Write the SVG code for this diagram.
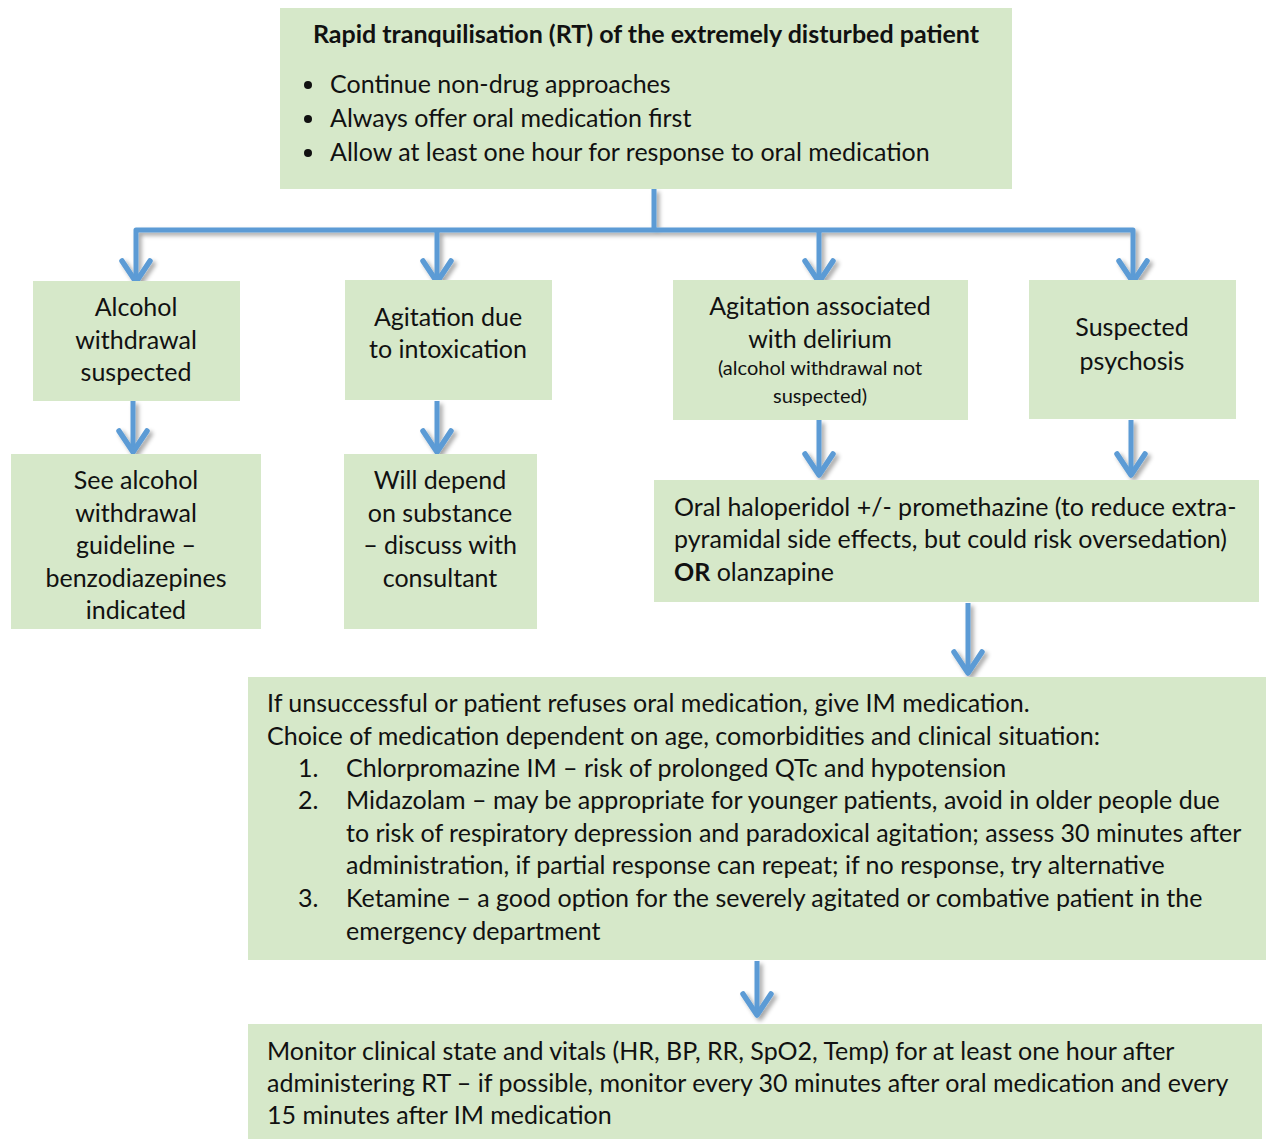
<svg xmlns="http://www.w3.org/2000/svg" width="1266" height="1139" viewBox="0 0 1266 1139">
<defs>
<style>
.box{fill:#d6e8c9;}
text{font-family:Lato,"Liberation Sans",sans-serif;font-size:25px;fill:#111;}
.c{text-anchor:middle;}
.s{font-size:20px;}
.b{font-weight:bold;}
.ln{fill:none;stroke:#5b9bd5;stroke-width:5;stroke-linejoin:round;}
.ah{fill:none;stroke:#5b9bd5;stroke-width:5.5;stroke-linecap:round;stroke-linejoin:round;}
</style>
<filter id="sh" x="-20%" y="-20%" width="140%" height="140%">
<feDropShadow dx="3" dy="3" stdDeviation="2" flood-color="#000" flood-opacity="0.35"/>
</filter>
</defs>
<rect width="1266" height="1139" fill="#fff"/>
<g id="connectors" filter="url(#sh)">
<path class="ln" d="M654 189 V230 M136 284 V230 H1133 V284 M437 230 V284 M819 230 V284"/>
<path class="ah" d="M122 261 L136 282 L150 261 M423 261 L437 282 L451 261 M805 261 L819 282 L833 261 M1119 261 L1133 282 L1147 261"/>
<path class="ln" d="M133 401 V452 M437 401 V452 M819 420 V475 M1131 420 V475 M968 603 V673 M757 961 V1015"/>
<path class="ah" d="M119 431 L133 452 L147 431 M423 431 L437 452 L451 431 M805 454 L819 475 L833 454 M1117 454 L1131 475 L1145 454 M954 652 L968 673 L982 652 M743 994 L757 1015 L771 994"/>
</g>
<g id="n0"><rect class="box" x="280" y="8" width="732" height="181"/>
<text class="c b" x="646" y="43">Rapid tranquilisation (RT) of the extremely disturbed patient</text>
<circle cx="308" cy="85" r="4" fill="#111"/><circle cx="308" cy="119" r="4" fill="#111"/><circle cx="308" cy="153" r="4" fill="#111"/>
<text x="330" y="93">Continue non-drug approaches</text>
<text x="330" y="127">Always offer oral medication first</text>
<text x="330" y="161">Allow at least one hour for response to oral medication</text></g>
<g id="n1"><rect class="box" x="33" y="281" width="207" height="120"/>
<text class="c" x="136" y="316">Alcohol</text><text class="c" x="136" y="349">withdrawal</text><text class="c" x="136" y="381">suspected</text></g>
<g id="n2"><rect class="box" x="345" y="280" width="207" height="120"/>
<text class="c" x="448" y="326">Agitation due</text><text class="c" x="448" y="358">to intoxication</text></g>
<g id="n3"><rect class="box" x="673" y="280" width="295" height="140"/>
<text class="c" x="820" y="315">Agitation associated</text><text class="c" x="820" y="348">with delirium</text>
<text class="c s" x="820" y="375">(alcohol withdrawal not</text><text class="c s" x="820" y="403">suspected)</text></g>
<g id="n4"><rect class="box" x="1029" y="280" width="207" height="139"/>
<text class="c" x="1132" y="336">Suspected</text><text class="c" x="1132" y="370">psychosis</text></g>
<g id="n5"><rect class="box" x="11" y="454" width="250" height="175"/>
<text class="c" x="136" y="489">See alcohol</text><text class="c" x="136" y="522">withdrawal</text><text class="c" x="136" y="554">guideline –</text><text class="c" x="136" y="587">benzodiazepines</text><text class="c" x="136" y="619">indicated</text></g>
<g id="n6"><rect class="box" x="344" y="454" width="193" height="175"/>
<text class="c" x="440" y="489">Will depend</text><text class="c" x="440" y="522">on substance</text><text class="c" x="440" y="554">– discuss with</text><text class="c" x="440" y="587">consultant</text></g>
<g id="n7"><rect class="box" x="654" y="480" width="605" height="122"/>
<text x="674" y="516">Oral haloperidol +/- promethazine (to reduce extra-</text>
<text x="674" y="548">pyramidal side effects, but could risk oversedation)</text>
<text x="674" y="581"><tspan class="b">OR</tspan> olanzapine</text></g>
<g id="n8"><rect class="box" x="248" y="677" width="1018" height="283"/>
<text x="267" y="712">If unsuccessful or patient refuses oral medication, give IM medication.</text>
<text x="267" y="745">Choice of medication dependent on age, comorbidities and clinical situation:</text>
<text x="298" y="777">1.</text><text x="346" y="777">Chlorpromazine IM – risk of prolonged QTc and hypotension</text>
<text x="298" y="809">2.</text><text x="346" y="809">Midazolam – may be appropriate for younger patients, avoid in older people due</text>
<text x="346" y="842">to risk of respiratory depression and paradoxical agitation; assess 30 minutes after</text>
<text x="346" y="874">administration, if partial response can repeat; if no response, try alternative</text>
<text x="298" y="907">3.</text><text x="346" y="907">Ketamine – a good option for the severely agitated or combative patient in the</text>
<text x="346" y="940">emergency department</text></g>
<g id="n9"><rect class="box" x="248" y="1024" width="1014" height="115"/>
<text x="267" y="1060">Monitor clinical state and vitals (HR, BP, RR, SpO2, Temp) for at least one hour after</text>
<text x="267" y="1092">administering RT – if possible, monitor every 30 minutes after oral medication and every</text>
<text x="267" y="1124">15 minutes after IM medication</text></g>
</svg>
